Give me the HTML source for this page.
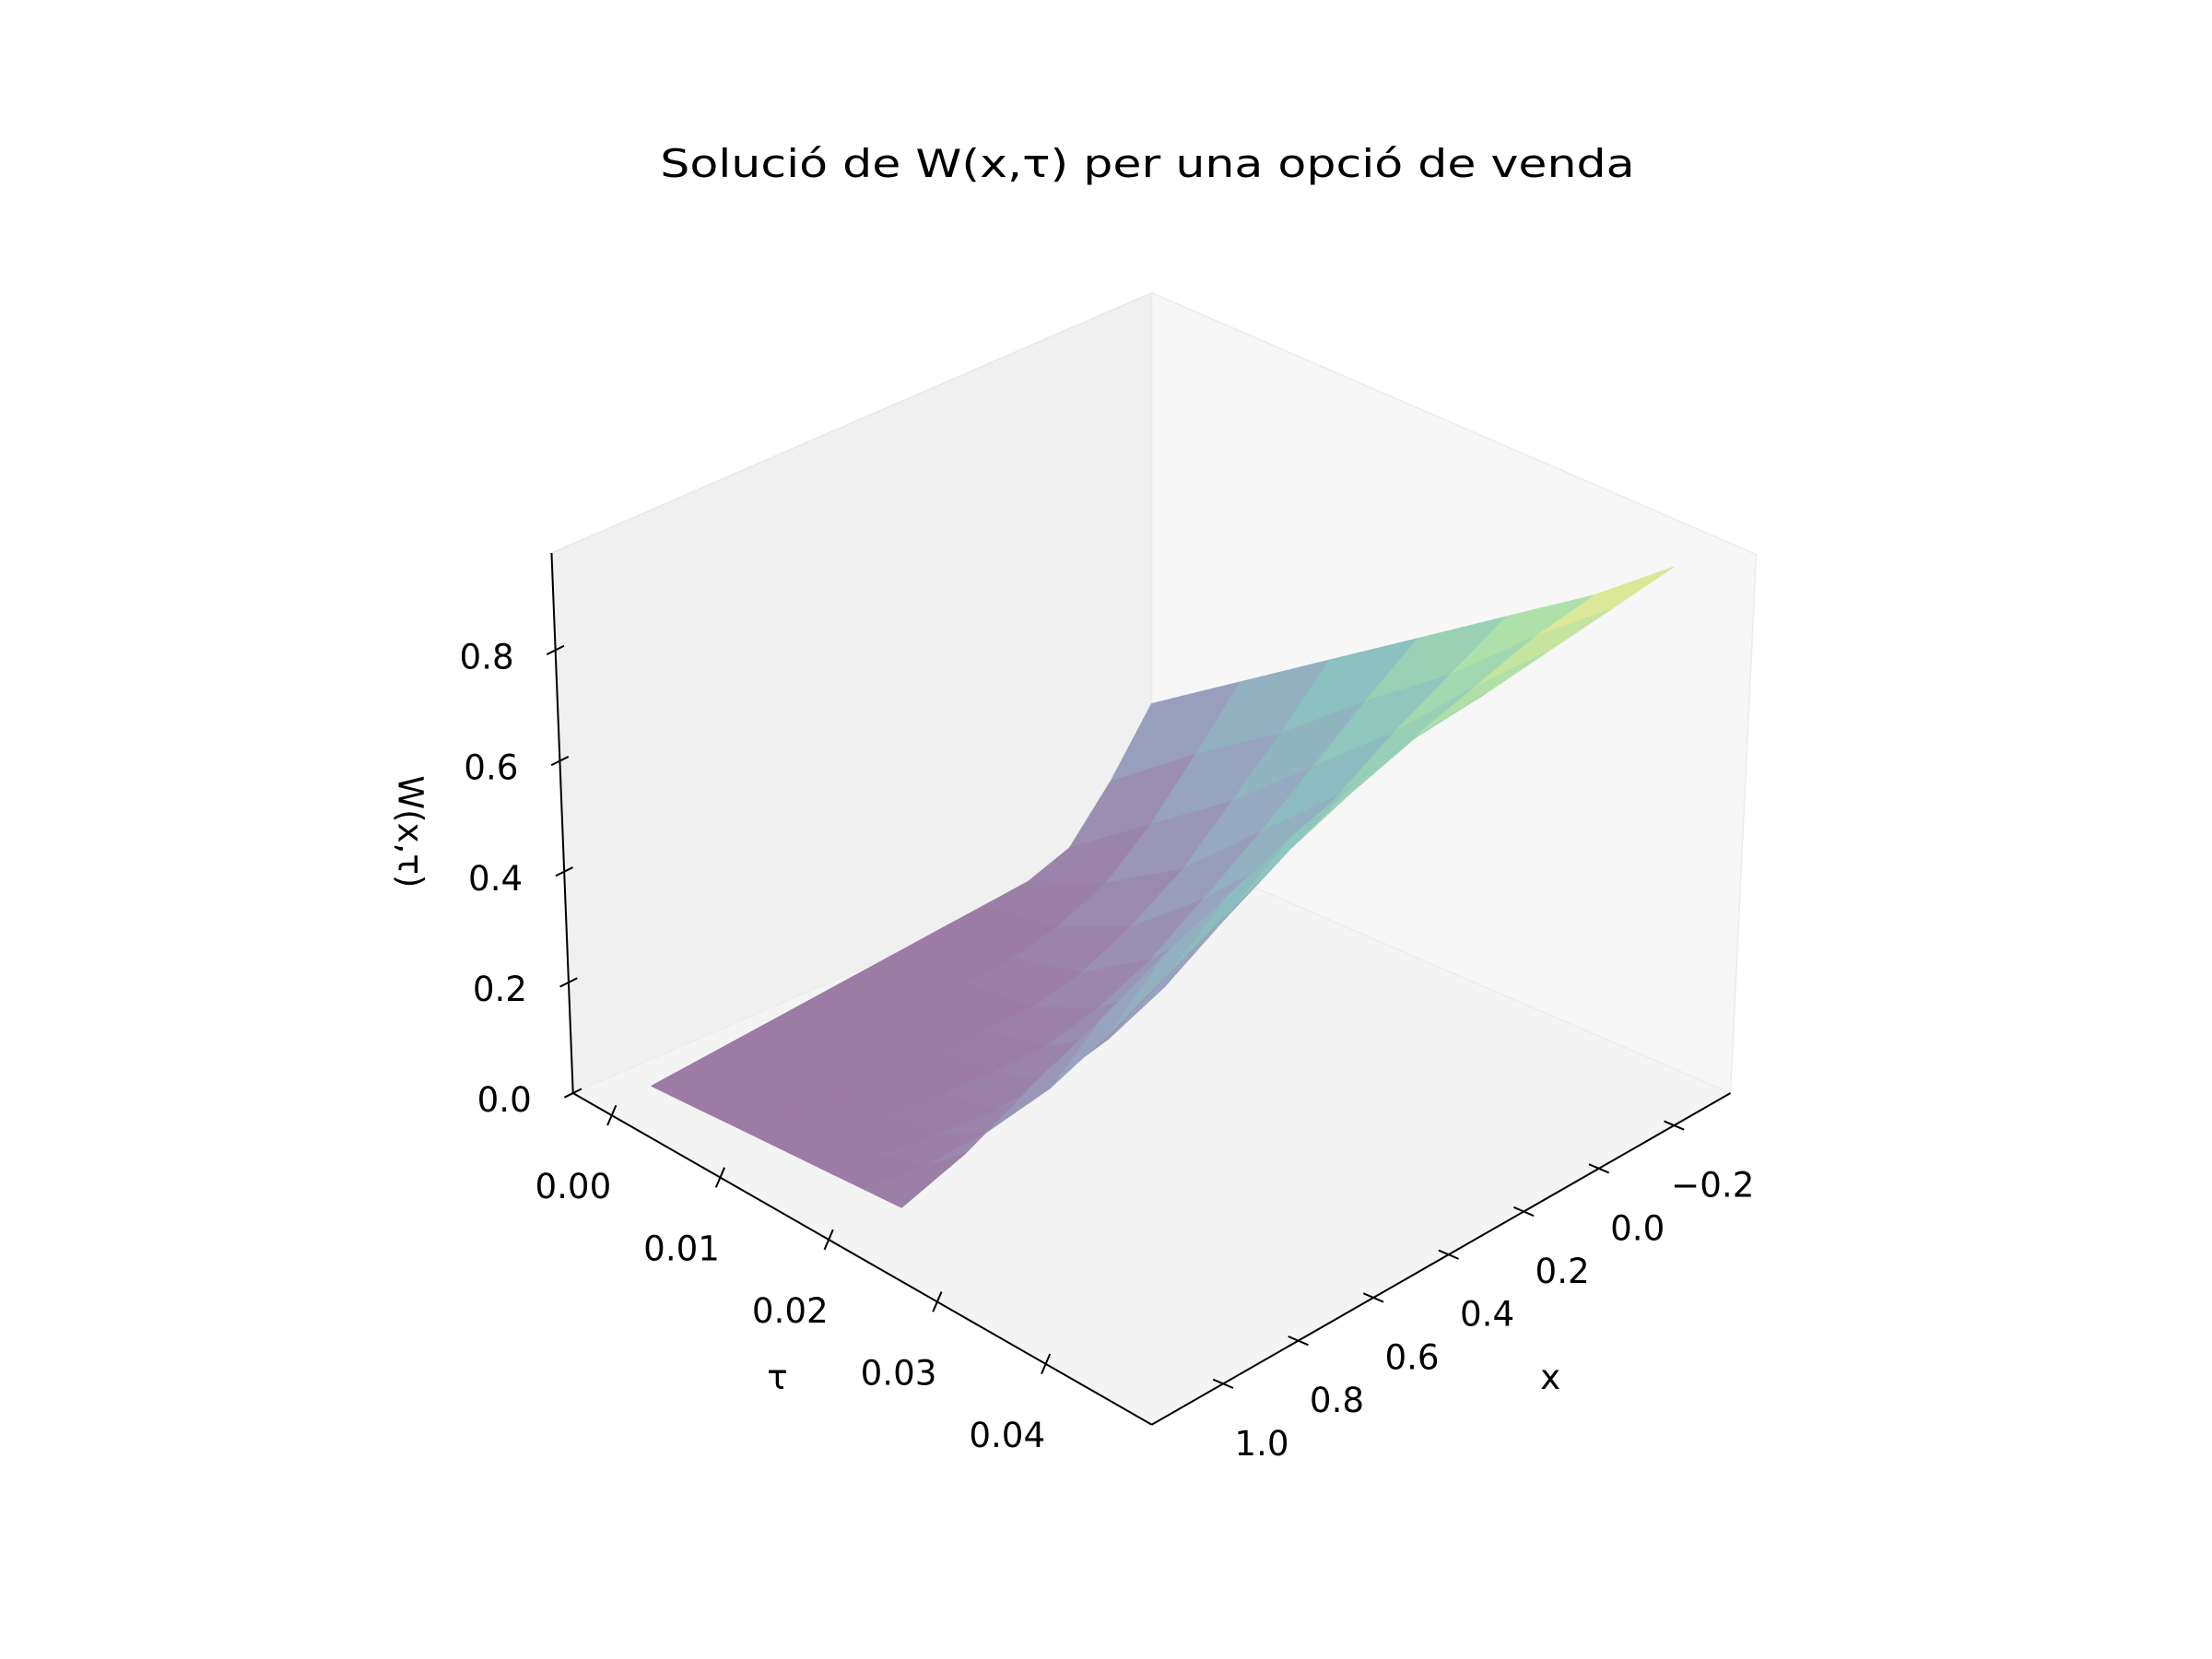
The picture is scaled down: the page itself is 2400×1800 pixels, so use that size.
<!DOCTYPE html>
<html><head><meta charset="utf-8"><style>
html,body{margin:0;padding:0;background:#fff;}
svg{display:block;font-family:"DejaVu Sans","Liberation Sans",sans-serif;}
</style></head><body>
<svg id="chart" width="2400" height="1800" viewBox="0 0 1548 1161" xmlns="http://www.w3.org/2000/svg">
<rect width="1548" height="1161" fill="#fff"/>
<g id="root" transform="translate(-9,0)">
<text x="812" y="124" font-size="27" text-anchor="middle" textLength="682" lengthAdjust="spacingAndGlyphs" fill="#000">Solució de W(x,τ) per una opció de venda</text>
<g>
<polygon points="395,387 815,205 815,590 410,765" fill="#f0f0f0" stroke="#e8e8e8" stroke-width="1"/>
<polygon points="815,205 1238,388 1220,765 815,590" fill="#f7f7f7" stroke="#ececec" stroke-width="1"/>
<polygon points="410,765 815,590 1220,765 815,997" fill="#f4f4f4" stroke="#ececec" stroke-width="1"/>
</g>
<g id="surface"></g>
<g id="axes">
<line x1="395" y1="387" x2="410" y2="765" stroke="#000" stroke-width="1.3"/>
<line x1="410" y1="765" x2="815" y2="997" stroke="#000" stroke-width="1.3"/>
<line x1="815" y1="997" x2="1220" y2="765" stroke="#000" stroke-width="1.3"/>
</g>
<text x="1094" y="972" font-size="24" text-anchor="middle">x</text>
<text x="553" y="972" font-size="24" text-anchor="middle">τ</text>
<text x="0" y="0" font-size="24" text-anchor="middle" transform="translate(288,582) rotate(90)">W(x,τ)</text>
<g id="labels"></g>
</g>
</svg>
<script>
// data
const xVals = [1.07,0.96,0.85,0.73,0.62,0.51,0.40,0.29,0.18,0.06,-0.05,-0.16,-0.27];
const tauVals = [0,0.008,0.016,0.024,0.032,0.040,0.047];
const wRow0 = [0,0,0,0,0,0,0,0,0,0,0.02,0.10,0.20];
const wRow1 = [0,0,0,0,0,0,0,0.01,0.03,0.07,0.14,0.23,0.325];
const wRow2 = [0,0,0,0,0,0.01,0.02,0.05,0.10,0.17,0.26,0.35,0.45];
const wRow3 = [0,0,0,0.01,0.02,0.04,0.08,0.14,0.22,0.31,0.40,0.49,0.575];
const wRow4 = [0,0,0.01,0.03,0.06,0.11,0.18,0.27,0.36,0.45,0.54,0.62,0.70];
const wRow5 = [0,0.02,0.06,0.12,0.20,0.29,0.38,0.47,0.55,0.63,0.70,0.77,0.825];
const wRow6 = [0,0.08,0.18,0.28,0.38,0.47,0.56,0.64,0.71,0.77,0.83,0.89,0.95];
const wRows = [wRow0,wRow1,wRow2,wRow3,wRow4,wRow5,wRow6];
const zTicks = [0.0,0.2,0.4,0.6,0.8];
const zTickLabels = ["0.0","0.2","0.4","0.6","0.8"];
const tauTicks = [0.00,0.01,0.02,0.03,0.04];
const tauTickLabels = ["0.00","0.01","0.02","0.03","0.04"];
const xTicks = [-0.2,0.0,0.2,0.4,0.6,0.8,1.0];
const xTickLabels = ["\u22120.2","0.0","0.2","0.4","0.6","0.8","1.0"];

const NS = "http://www.w3.org/2000/svg";
const surf = document.getElementById('surface');
const axes = document.getElementById('axes');
const labels = document.getElementById('labels');

const xMin = -0.27, xMax = 1.07, tMin = 0, tMax = 0.047;
const P00=[465,760],P10=[815,570],P01=[640,845],P11=[1180,765];
const ZPX = 387.5;
function proj(x,tau,w){
  const s=(xMax-x)/(xMax-xMin), t=(tau-tMin)/(tMax-tMin);
  const bx=(1-s)*(1-t)*P00[0]+s*(1-t)*P10[0]+(1-s)*t*P01[0]+s*t*P11[0];
  const by=(1-s)*(1-t)*P00[1]+s*(1-t)*P10[1]+(1-s)*t*P01[1]+s*t*P11[1];
  return [bx, by - w*ZPX, by];
}
function zAxis(w){ const y=765-w*ZPX; const x=395+15*(y-387)/378; return [x,y]; }
function tauAxis(tau){ const u=(tau+0.00357)/0.05334; return [410+405*u,765+232*u]; }
function xAxis(x){ const v=(1.19-x)/1.54; return [815+405*v,997-232*v]; }

const vir=[[68,1,84],[59,82,139],[33,145,140],[94,201,98],[253,231,37]];
function viridis(f){
  f=Math.max(0,Math.min(1,f)); const p=f*4, i=Math.min(3,Math.floor(p)), r=p-i;
  const c=vir[i].map((v,k)=>Math.round(0.5*(v+(vir[i+1][k]-v)*r)+0.5*244));
  return 'rgb('+c.join(',')+')';
}

const quads=[];
for(let j=0;j<tauVals.length-1;j++){
  for(let i=0;i<xVals.length-1;i++){
    const c=[[i,j],[i+1,j],[i+1,j+1],[i,j+1]].map(([a,b])=>proj(xVals[a],tauVals[b],wRows[b][a]));
    const wAvg=(wRows[j][i]+wRows[j][i+1]+wRows[j+1][i]+wRows[j+1][i+1])/4;
    const depth=c.reduce((acc,p)=>acc+p[2],0)/4;
    quads.push({c,wAvg,depth});
  }
}
quads.sort((a,b)=>a.depth-b.depth);
quads.forEach(q=>{
  const p=document.createElementNS(NS,'polygon');
  
  
  p.setAttribute('points', q.c.map(v=>v[0].toFixed(1)+','+v[1].toFixed(1)).join(' '));
  const col=viridis(q.wAvg/0.95);
  p.setAttribute('fill', col);
  p.setAttribute('stroke', col);
  p.setAttribute('stroke-width', '0.8');
  p.setAttribute('stroke-linejoin', 'round');
  surf.appendChild(p);
});

function line(x1,y1,x2,y2){
  const l=document.createElementNS(NS,'line');
  l.setAttribute('x1',x1);l.setAttribute('y1',y1);l.setAttribute('x2',x2);l.setAttribute('y2',y2);
  l.setAttribute('stroke','#000');l.setAttribute('stroke-width','1.3');
  return l;
}
function label(txt,x,y,anchor){
  const t=document.createElementNS(NS,'text');
  t.setAttribute('x',x);t.setAttribute('y',y);t.setAttribute('font-size','24');
  t.setAttribute('text-anchor',anchor);t.textContent=txt;
  return t;
}
zTicks.forEach((w,k)=>{
  const [x,y]=zAxis(w);
  const l=line(x-6,y+3,x+6,y-3);
  
  
  axes.appendChild(l);
  const t=label(zTickLabels[k],x-29,y+13,'end');
  
  
  labels.appendChild(t);
});
tauTicks.forEach((v,k)=>{
  const [x,y]=tauAxis(v);
  const l=line(x-3,y+7,x+3,y-7);
  
  
  axes.appendChild(l);
  const t=label(tauTickLabels[k],x-27,y+58,'middle');
  
  
  labels.appendChild(t);
});
xTicks.forEach((v,k)=>{
  const [x,y]=xAxis(v);
  const l=line(x-7,y-3,x+7,y+3);
  
  
  axes.appendChild(l);
  const t=label(xTickLabels[k],x+27,y+50,'middle');
  
  
  labels.appendChild(t);
});
</script>
</body></html>
